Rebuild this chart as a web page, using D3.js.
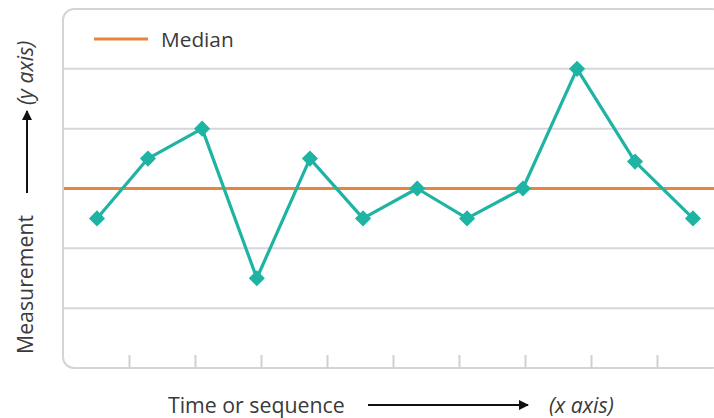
<!DOCTYPE html>
<html>
<head>
<meta charset="utf-8">
<script src="https://cdn.jsdelivr.net/npm/d3@7"></script>
<style>
  html, body { margin: 0; padding: 0; background: #ffffff; }
  svg { display: block; }
</style>
</head>
<body>
<svg id="chart" width="714" height="418"></svg>
<script>
// ---- data ----
const sequence = [1, 1.94, 2.94, 3.95, 4.93, 5.91, 6.91, 7.83, 8.86, 9.86, 10.93, 12];
const measurements = [2.5, 3.5, 4, 1.5, 3.5, 2.5, 3, 2.5, 3, 5, 3.45, 2.5];
const median = 3;
const gridLevels = [1, 2, 3, 4, 5];
const tickPositions = [1, 2, 3, 4, 5, 6, 7, 8, 9];
const legendLabel = "Median";
const xLabel = "Time or sequence";
const xAxisNote = "(x axis)";
const yLabel = "Measurement";
const yAxisNote = "(y axis)";

// ---- layout ----
const svg = d3.select("#chart");
const panel = { left: 63, top: 9, right: 723, bottom: 368 };
const teal = "#1fb3a4";
const orange = "#e8843c";
const font = "'Open Sans', sans-serif";
const textColor = "#3a3a3a";
const fs = 21.3;

const y = d3.scaleLinear().domain([0, 6]).range([panel.bottom, panel.top]);
const x = d3.scaleLinear().domain([1, 12]).range([97, 693]);
const xTick = d3.scaleLinear().domain([0, 10]).range([panel.left, panel.right]);

svg.append("defs").append("marker")
  .attr("id", "arrow")
  .attr("viewBox", "0 0 10 10")
  .attr("refX", 9).attr("refY", 5)
  .attr("markerWidth", 10).attr("markerHeight", 10)
  .attr("markerUnits", "userSpaceOnUse")
  .attr("orient", "auto")
  .append("path").attr("d", "M0,0 L10,5 L0,10 z").attr("fill", "#111");

// panel
svg.append("rect")
  .attr("x", panel.left).attr("y", panel.top)
  .attr("width", panel.right - panel.left).attr("height", panel.bottom - panel.top)
  .attr("rx", 11).attr("ry", 11)
  .attr("fill", "#ffffff")
  .attr("stroke", "#d4d4d8").attr("stroke-width", 2);

// gridlines
svg.append("g").selectAll("line").data(gridLevels).join("line")
  .attr("x1", panel.left).attr("x2", panel.right)
  .attr("y1", d => y(d)).attr("y2", d => y(d))
  .attr("stroke", "#d6d6dc").attr("stroke-width", 2);

// bottom ticks
const xAxis = d3.axisBottom(xTick).tickValues(tickPositions).tickSize(-13).tickFormat("");
const gx = svg.append("g").attr("transform", `translate(0,${panel.bottom})`).call(xAxis);
gx.select(".domain").remove();
gx.selectAll(".tick line").attr("stroke", "#d0d0d4").attr("stroke-width", 2);

// median line
svg.append("line")
  .attr("x1", panel.left + 1).attr("x2", panel.right)
  .attr("y1", y(median)).attr("y2", y(median))
  .attr("stroke", orange).attr("stroke-width", 3);

// data line
const line = d3.line().x((d, i) => x(sequence[i])).y(d => y(d));
svg.append("path")
  .datum(measurements)
  .attr("d", line)
  .attr("fill", "none")
  .attr("stroke", teal).attr("stroke-width", 3.2)
  .attr("stroke-linejoin", "round");

// diamonds
const diamond = d3.symbol().type(d3.symbolSquare).size(130);
svg.append("g").selectAll("path").data(measurements).join("path")
  .attr("d", diamond)
  .attr("transform", (d, i) => `translate(${x(sequence[i])},${y(d)}) rotate(45)`)
  .attr("fill", teal);

// legend
svg.append("line")
  .attr("x1", 94).attr("x2", 148).attr("y1", 39).attr("y2", 39)
  .attr("stroke", orange).attr("stroke-width", 3);
svg.append("text")
  .attr("x", 161).attr("y", 47)
  .attr("font-family", font).attr("font-size", 20.8)
  .attr("fill", textColor)
  .text(legendLabel);

// x label
svg.append("text")
  .attr("x", 168).attr("y", 413)
  .attr("font-family", font).attr("font-size", fs)
  .attr("fill", textColor)
  .text(xLabel);
svg.append("line")
  .attr("x1", 368).attr("x2", 528).attr("y1", 405).attr("y2", 405)
  .attr("stroke", "#111").attr("stroke-width", 2)
  .attr("marker-end", "url(#arrow)");
svg.append("text")
  .attr("x", 549).attr("y", 413)
  .attr("font-family", font).attr("font-size", fs).attr("font-style", "italic")
  .attr("fill", textColor)
  .text(xAxisNote);

// y label
svg.append("text")
  .attr("transform", "translate(33,354) rotate(-90)")
  .attr("font-family", font).attr("font-size", fs)
  .attr("fill", textColor)
  .text(yLabel);
svg.append("line")
  .attr("x1", 27).attr("x2", 27).attr("y1", 193).attr("y2", 111)
  .attr("stroke", "#111").attr("stroke-width", 2)
  .attr("marker-end", "url(#arrow)");
svg.append("text")
  .attr("transform", "translate(33,105) rotate(-90)")
  .attr("font-family", font).attr("font-size", fs).attr("font-style", "italic")
  .attr("fill", textColor)
  .text(yAxisNote);
</script>
</body>
</html>
